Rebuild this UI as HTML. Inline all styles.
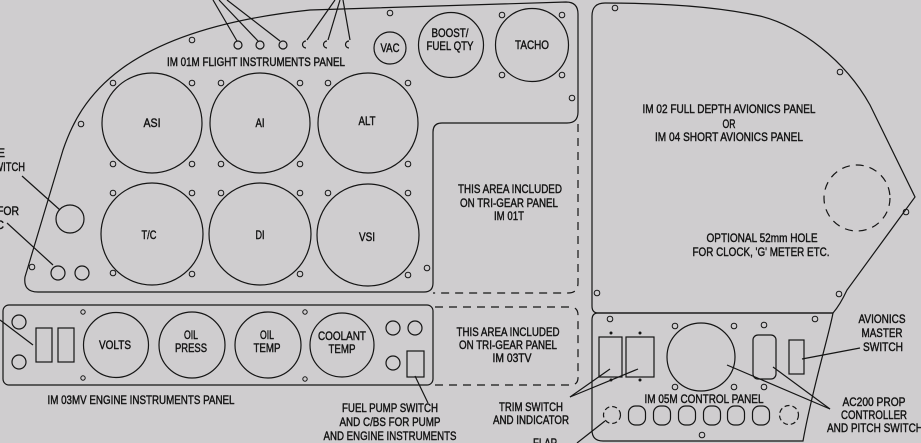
<!DOCTYPE html>
<html>
<head>
<meta charset="utf-8">
<style>
  html,body{margin:0;padding:0;background:#cfcdcf;}
  svg{display:block;}
  text{font-family:"Liberation Sans",Arial,sans-serif;font-size:12px;fill:#111;stroke:#111;stroke-width:0.4;}
</style>
</head>
<body>
<svg width="921" height="443" viewBox="0 0 921 443" xmlns="http://www.w3.org/2000/svg">
  <rect x="0" y="0" width="921" height="443" fill="#cfcdcf"/>
  <g fill="none" stroke="#151515" stroke-width="1.2">
    <!-- Flight instruments panel outline -->
    <path d="M566 2 Q578 2 578 14 L578 112 Q578 123 567 123 L442 123 Q433 123 433 132 L433 283 Q433 292 424 292 L38 292 Q23 292 25 277 L63 150 C80 100 120 30 310 10 L566 2"/>
    <!-- IM01T dashed area -->
    <path d="M578 124 L578 283 Q578 293 568 293 L433 293" stroke-dasharray="8 6"/>
    <!-- Avionics panel -->
    <path d="M605 3 Q700 3 760 16 C800 26 845 60 870 105 L915 197 L847 290 Q840 305 833 313 L598 313 Q592 313 592 306 L592 16 Q592 3 605 3 Z"/>
    <!-- dashed optional hole -->
    <circle cx="857" cy="198" r="33" stroke-dasharray="8 6"/>
    <!-- Control panel -->
    <path d="M598 313 L833 313 C829 335 812 390 803 441 L603 441 Q592 441 592 430 L592 320 Q592 313 598 313 Z"/>
    <!-- Engine panel -->
    <rect x="3" y="305" width="430" height="80" rx="6"/>
    <!-- IM03TV dashed -->
    <path d="M435 307 L570 307 Q578 307 578 315 L578 378 Q578 385 570 385 L435 385" stroke-dasharray="8 6"/>

    <!-- Flight gauges -->
    <circle cx="152" cy="123" r="50"/>
    <circle cx="260" cy="123" r="50"/>
    <circle cx="368" cy="123" r="50"/>
    <circle cx="152" cy="234" r="51"/>
    <circle cx="260" cy="234" r="51"/>
    <circle cx="368" cy="235" r="51"/>
    <circle cx="390" cy="48" r="16"/>
    <circle cx="451" cy="45" r="32.5"/>
    <circle cx="532" cy="45" r="36.5"/>

    <!-- left switch and small circles -->
    <circle cx="70" cy="219" r="14"/>
    <circle cx="58" cy="273" r="7"/>
    <circle cx="82" cy="273" r="7"/>

    <!-- top leader circles -->
    <circle cx="238" cy="45" r="4"/>
    <circle cx="260" cy="45" r="4"/>
    <circle cx="283" cy="45" r="4"/>
    <path d="M306 41 A3.5 3.5 0 0 0 306 48"/>
    <path d="M327 41 A3.5 3.5 0 0 0 327 48"/>
    <path d="M349 41 A3.5 3.5 0 0 0 349 48"/>

    <!-- leader lines -->
    <line x1="213" y1="0" x2="237" y2="41"/>
    <line x1="219" y1="0" x2="258" y2="41"/>
    <line x1="227" y1="0" x2="280" y2="41"/>
    <line x1="335" y1="0" x2="307" y2="40"/>
    <line x1="340" y1="0" x2="328" y2="40"/>
    <line x1="343" y1="0" x2="350" y2="40"/>
    <line x1="22" y1="176" x2="60" y2="210"/>
    <line x1="7" y1="223" x2="53" y2="265"/>
    <line x1="0" y1="320" x2="33" y2="345"/>
    <line x1="415" y1="376" x2="428" y2="403"/>
    <line x1="570" y1="397" x2="610" y2="369"/>
    <line x1="570" y1="397" x2="638" y2="369"/>
    <line x1="577" y1="443" x2="605" y2="421"/>
    <line x1="802" y1="359" x2="860" y2="348"/>
    <line x1="830" y1="409" x2="727" y2="365"/>
    <line x1="830" y1="409" x2="773" y2="367"/>

    <!-- Engine panel items -->
    <circle cx="19" cy="322" r="7"/>
    <circle cx="19" cy="362" r="7"/>
    <rect x="36" y="328" width="16" height="34"/>
    <rect x="58" y="328" width="16" height="34"/>
    <circle cx="116" cy="345" r="32.5"/>
    <circle cx="192" cy="345" r="33"/>
    <circle cx="268" cy="345" r="33"/>
    <circle cx="342" cy="345" r="32"/>
    <circle cx="393" cy="328" r="7"/>
    <circle cx="415" cy="328" r="7"/>
    <circle cx="393" cy="363" r="7"/>
    <rect x="407" y="351" width="17" height="26"/>

    <!-- Control panel items -->
    <rect x="599" y="337" width="23" height="40"/>
    <rect x="626" y="337" width="28" height="40"/>
    <circle cx="701" cy="357" r="34"/>
    <rect x="753" y="335" width="23" height="44" rx="5"/>
    <rect x="789" y="340" width="15" height="34"/>
    <circle cx="612" cy="415" r="8.5" stroke-dasharray="5 3"/>
    <rect x="628.5" y="406" width="17" height="19" rx="7"/>
    <rect x="653.5" y="406" width="17" height="19" rx="7"/>
    <rect x="678.5" y="406" width="17" height="19" rx="7"/>
    <rect x="703.5" y="406" width="17" height="19" rx="7"/>
    <rect x="727.5" y="406" width="17" height="19" rx="7"/>
    <rect x="752.5" y="406" width="17" height="19" rx="7"/>
    <circle cx="789" cy="415" r="9.5" stroke-dasharray="5 3"/>
  </g>

  <!-- small holes -->
  <g fill="none" stroke="#151515" stroke-width="1">
    <circle cx="192" cy="40" r="2.8"/>
    <circle cx="113" cy="83" r="2.8"/><circle cx="192" cy="83" r="2.8"/><circle cx="221" cy="83" r="2.8"/><circle cx="300" cy="83" r="2.8"/><circle cx="328" cy="83" r="2.8"/><circle cx="408" cy="83" r="2.8"/>
    <circle cx="81" cy="124" r="2.8"/>
    <circle cx="113" cy="164" r="2.8"/><circle cx="192" cy="164" r="2.8"/><circle cx="221" cy="164" r="2.8"/><circle cx="300" cy="164" r="2.8"/><circle cx="408" cy="164" r="2.8"/>
    <circle cx="113" cy="193" r="2.8"/><circle cx="192" cy="193" r="2.8"/><circle cx="221" cy="193" r="2.8"/><circle cx="300" cy="193" r="2.8"/><circle cx="328" cy="193" r="2.8"/><circle cx="408" cy="193" r="2.8"/>
    <circle cx="113" cy="273" r="2.8"/><circle cx="192" cy="274" r="2.8"/><circle cx="300" cy="274" r="2.8"/><circle cx="408" cy="275" r="2.8"/>
    <circle cx="32" cy="267" r="2.8"/><circle cx="427" cy="268" r="2.8"/>
    <circle cx="390" cy="13" r="2.8"/>
    <circle cx="502" cy="15" r="2.8"/><circle cx="562" cy="15" r="2.8"/><circle cx="502" cy="75" r="2.8"/><circle cx="562" cy="75" r="2.8"/>
    <circle cx="572" cy="98" r="2.8"/>
    <circle cx="615" cy="8" r="2.8"/><circle cx="840" cy="72" r="2.8"/><circle cx="906" cy="212" r="2.8"/>
    <circle cx="597" cy="293" r="2.8"/><circle cx="839" cy="294" r="2.8"/>
    <circle cx="83" cy="312" r="2.2"/><circle cx="83" cy="378" r="2.2"/><circle cx="305" cy="312" r="2.2"/><circle cx="305" cy="379" r="2.2"/>
    <circle cx="610" cy="319" r="2.8"/><circle cx="815" cy="319" r="2.8"/>
    <circle cx="675" cy="326" r="2.8"/><circle cx="734" cy="326" r="2.8"/><circle cx="675" cy="387" r="2.8"/><circle cx="734" cy="387" r="2.8"/>
    <circle cx="764" cy="325" r="2.8"/><circle cx="764" cy="387" r="2.8"/>
    <circle cx="702" cy="435" r="2.8"/>
  </g>
  <g fill="#151515">
    <circle cx="611" cy="333" r="1.5"/><circle cx="640" cy="333" r="1.5"/><circle cx="611" cy="380" r="1.5"/><circle cx="640" cy="380" r="1.5"/>
  </g>

  <!-- Text -->
  <g text-anchor="middle">
    <text x="256" y="66" textLength="178" lengthAdjust="spacingAndGlyphs">IM 01M FLIGHT INSTRUMENTS PANEL</text>
    <text x="152" y="127" textLength="17" lengthAdjust="spacingAndGlyphs">ASI</text>
    <text x="260" y="127" textLength="9" lengthAdjust="spacingAndGlyphs">AI</text>
    <text x="367" y="125" textLength="17" lengthAdjust="spacingAndGlyphs">ALT</text>
    <text x="149" y="239" textLength="15" lengthAdjust="spacingAndGlyphs">T/C</text>
    <text x="260" y="239" textLength="9" lengthAdjust="spacingAndGlyphs">DI</text>
    <text x="367" y="241" textLength="16" lengthAdjust="spacingAndGlyphs">VSI</text>
    <text x="390" y="52" textLength="19" lengthAdjust="spacingAndGlyphs">VAC</text>
    <text x="450" y="37" textLength="37" lengthAdjust="spacingAndGlyphs">BOOST/</text>
    <text x="450" y="50" textLength="47" lengthAdjust="spacingAndGlyphs">FUEL QTY</text>
    <text x="532" y="49" textLength="34" lengthAdjust="spacingAndGlyphs">TACHO</text>

    <text x="510" y="193" textLength="104" lengthAdjust="spacingAndGlyphs">THIS AREA INCLUDED</text>
    <text x="509" y="207" textLength="98" lengthAdjust="spacingAndGlyphs">ON TRI-GEAR PANEL</text>
    <text x="509" y="220" textLength="30" lengthAdjust="spacingAndGlyphs">IM 01T</text>

    <text x="729" y="113" textLength="173" lengthAdjust="spacingAndGlyphs">IM 02 FULL DEPTH AVIONICS PANEL</text>
    <text x="729" y="128" textLength="13" lengthAdjust="spacingAndGlyphs">OR</text>
    <text x="729" y="141" textLength="148" lengthAdjust="spacingAndGlyphs">IM 04 SHORT AVIONICS PANEL</text>
    <text x="762" y="242" textLength="111" lengthAdjust="spacingAndGlyphs">OPTIONAL 52mm HOLE</text>
    <text x="761" y="256" textLength="137" lengthAdjust="spacingAndGlyphs">FOR CLOCK, 'G' METER ETC.</text>

    <text x="115" y="349" textLength="32" lengthAdjust="spacingAndGlyphs">VOLTS</text>
    <text x="191" y="339" textLength="14" lengthAdjust="spacingAndGlyphs">OIL</text>
    <text x="191" y="352" textLength="32" lengthAdjust="spacingAndGlyphs">PRESS</text>
    <text x="267" y="339" textLength="14" lengthAdjust="spacingAndGlyphs">OIL</text>
    <text x="267" y="352" textLength="27" lengthAdjust="spacingAndGlyphs">TEMP</text>
    <text x="342" y="340" textLength="48" lengthAdjust="spacingAndGlyphs">COOLANT</text>
    <text x="342" y="353" textLength="27" lengthAdjust="spacingAndGlyphs">TEMP</text>
    <text x="141" y="404" textLength="187" lengthAdjust="spacingAndGlyphs">IM 03MV ENGINE INSTRUMENTS PANEL</text>

    <text x="508" y="336" textLength="103" lengthAdjust="spacingAndGlyphs">THIS AREA INCLUDED</text>
    <text x="508" y="349" textLength="98" lengthAdjust="spacingAndGlyphs">ON TRI-GEAR PANEL</text>
    <text x="512" y="362" textLength="39" lengthAdjust="spacingAndGlyphs">IM 03TV</text>

    <text x="390" y="412" textLength="96" lengthAdjust="spacingAndGlyphs">FUEL PUMP SWITCH</text>
    <text x="390" y="426" textLength="101" lengthAdjust="spacingAndGlyphs">AND C/BS FOR PUMP</text>
    <text x="390" y="440" textLength="133" lengthAdjust="spacingAndGlyphs">AND ENGINE INSTRUMENTS</text>

    <text x="531" y="411" textLength="64" lengthAdjust="spacingAndGlyphs">TRIM SWITCH</text>
    <text x="531" y="424" textLength="76" lengthAdjust="spacingAndGlyphs">AND INDICATOR</text>
    <text x="545" y="447" textLength="24" lengthAdjust="spacingAndGlyphs">FLAP</text>

    <text x="704" y="403" textLength="119" lengthAdjust="spacingAndGlyphs">IM 05M CONTROL PANEL</text>

    <text x="882" y="323" textLength="47" lengthAdjust="spacingAndGlyphs">AVIONICS</text>
    <text x="882" y="337" textLength="41" lengthAdjust="spacingAndGlyphs">MASTER</text>
    <text x="883" y="351" textLength="40" lengthAdjust="spacingAndGlyphs">SWITCH</text>
    <text x="874" y="406" textLength="63" lengthAdjust="spacingAndGlyphs">AC200 PROP</text>
    <text x="874" y="419" textLength="66" lengthAdjust="spacingAndGlyphs">CONTROLLER</text>
  </g>
  <text x="827" y="432" textLength="96" lengthAdjust="spacingAndGlyphs">AND PITCH SWITCH</text>
  <g text-anchor="end">
    <text x="5" y="157">LE</text>
    <text x="25" y="171" textLength="37" lengthAdjust="spacingAndGlyphs">SWITCH</text>
    <text x="19" y="215" textLength="22" lengthAdjust="spacingAndGlyphs">FOR</text>
    <text x="4" y="229">IC</text>
  </g>
</svg>
</body>
</html>
